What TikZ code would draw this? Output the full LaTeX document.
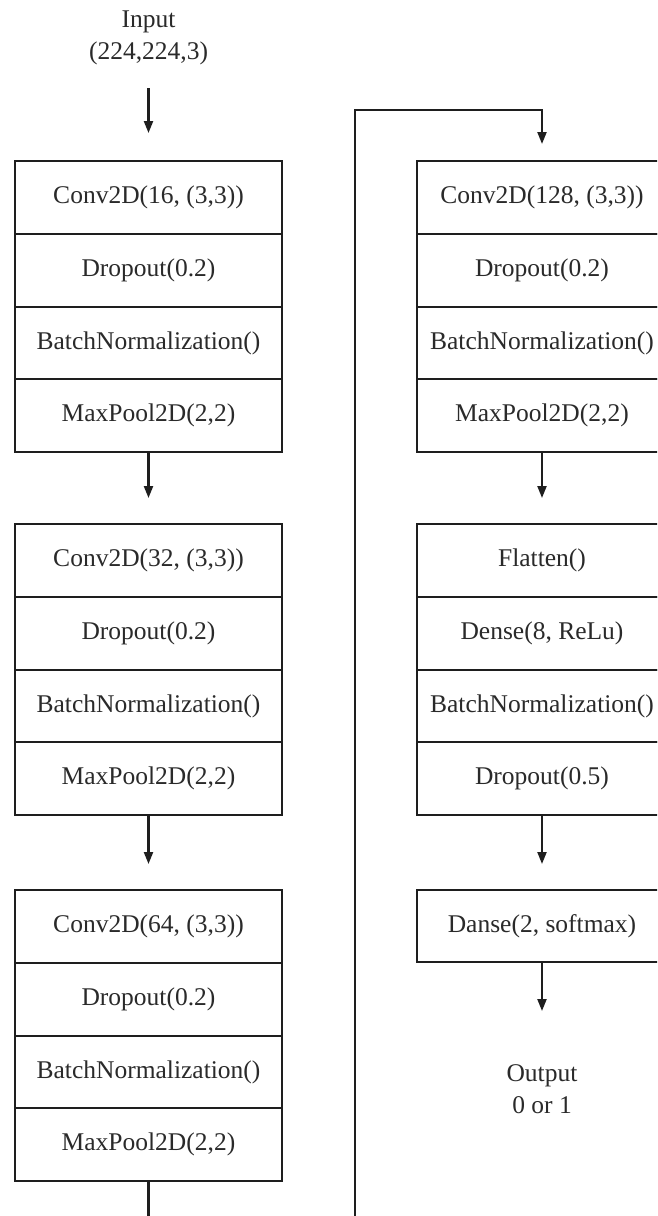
\documentclass[tikz,border=0pt]{standalone}
\usepackage{fontspec}
\setmainfont{Liberation Serif}
\usetikzlibrary{arrows.meta,positioning}

\definecolor{ink}{HTML}{1E1E1E}
\definecolor{txt}{HTML}{2A2A2A}

\tikzset{
  layer/.style={draw=ink, line width=2pt, rectangle, inner sep=0pt, outer sep=0pt,
    minimum height=72.75pt, text=txt, font=\fontsize{25.5}{30}\selectfont},
  leftlayer/.style={layer, minimum width=267pt},
  rightlayer/.style={layer, minimum width=250pt},
  lbl/.style={align=center, inner sep=0pt, text=txt, font=\fontsize{25.5}{32}\selectfont},
  arr/.style={draw=ink, line width=2.2pt, -{Triangle[width=9pt,length=12pt]}},
}

\begin{document}
\begin{tikzpicture}[x=1pt, y=-1pt]
  \useasboundingbox (0,0) rectangle (657,1216);
  \clip (0,0) rectangle (657,1216);
  \fill[white] (0,0) rectangle (657,1216);

  % input label
  \node[lbl] (in) at (148.5,38) {Input\\(224,224,3)};
  \coordinate (inarrow) at (148.5,88);

  % first convolution block
  \node[leftlayer, anchor=north] (a1) at (148.5,161) {Conv2D(16, (3,3))};
  \node[leftlayer, below=0pt of a1] (a2) {Dropout(0.2)};
  \node[leftlayer, below=0pt of a2] (a3) {BatchNormalization()};
  \node[leftlayer, below=0pt of a3] (a4) {MaxPool2D(2,2)};

  % second convolution block
  \node[leftlayer, anchor=north] (b1) at (148.5,524) {Conv2D(32, (3,3))};
  \node[leftlayer, below=0pt of b1] (b2) {Dropout(0.2)};
  \node[leftlayer, below=0pt of b2] (b3) {BatchNormalization()};
  \node[leftlayer, below=0pt of b3] (b4) {MaxPool2D(2,2)};

  % third convolution block
  \node[leftlayer, anchor=north] (c1) at (148.5,890) {Conv2D(64, (3,3))};
  \node[leftlayer, below=0pt of c1] (c2) {Dropout(0.2)};
  \node[leftlayer, below=0pt of c2] (c3) {BatchNormalization()};
  \node[leftlayer, below=0pt of c3] (c4) {MaxPool2D(2,2)};

  % fourth convolution block
  \node[rightlayer, anchor=north] (d1) at (542,161) {Conv2D(128, (3,3))};
  \node[rightlayer, below=0pt of d1] (d2) {Dropout(0.2)};
  \node[rightlayer, below=0pt of d2] (d3) {BatchNormalization()};
  \node[rightlayer, below=0pt of d3] (d4) {MaxPool2D(2,2)};

  % dense head
  \node[rightlayer, anchor=north] (e1) at (542,524) {Flatten()};
  \node[rightlayer, below=0pt of e1] (e2) {Dense(8, ReLu)};
  \node[rightlayer, below=0pt of e2] (e3) {BatchNormalization()};
  \node[rightlayer, below=0pt of e3] (e4) {Dropout(0.5)};

  \node[rightlayer, anchor=north, minimum height=72pt] (f1) at (542,890) {Danse(2, softmax)};

  % output label
  \node[lbl] (out) at (542,1089) {Output\\0 or 1};
  \coordinate (outarrow) at (542,1011);

  % connectors
  \draw[arr, shorten >=28pt] (inarrow) -- (a1.north);
  \draw[arr, shorten >=26pt] (a4.south) -- (b1.north);
  \draw[arr, shorten >=26pt] (b4.south) -- (c1.north);
  \draw[arr, shorten >=26pt] (d4.south) -- (e1.north);
  \draw[arr, shorten >=26pt] (e4.south) -- (f1.north);
  \draw[arr] (f1.south) -- (outarrow);

  % loop from the bottom of the left column to the top of the right column
  \coordinate (loopbottom) at (355,1240);
  \coordinate (looptop) at (355,110);
  \draw[arr, shorten >=17pt] (c4.south) |- (loopbottom) -- (looptop) -| (d1.north);
\end{tikzpicture}
\end{document}
